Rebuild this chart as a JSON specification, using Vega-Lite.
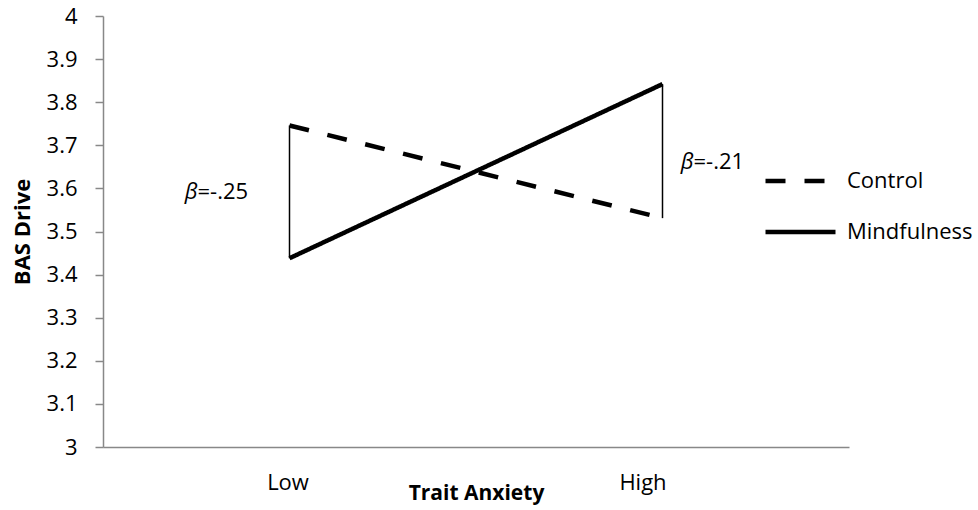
{
  "$schema": "https://vega.github.io/schema/vega-lite/v6.json",
  "width": 746,
  "height": 431,
  "autosize": {"type": "none"},
  "padding": {"left": 103, "top": 16, "right": 129, "bottom": 63},
  "background": "white",
  "config": {
    "view": {"stroke": null},
    "font": "Open Sans",
    "axis": {"grid": false, "domainColor": "#888888", "domainWidth": 1.5, "tickColor": "#888888", "tickWidth": 1.5, "labelColor": "black", "labelFont": "Open Sans", "labelFontSize": 22, "titleFont": "Open Sans", "titleFontSize": 21, "titleFontWeight": "bold", "titleColor": "black"}
  },
  "datasets": {
    "lines": [
      {"level": "Low", "group": "Control", "value": 3.746},
      {"level": "High", "group": "Control", "value": 3.531},
      {"level": "Low", "group": "Mindfulness", "value": 3.438},
      {"level": "High", "group": "Mindfulness", "value": 3.842}
    ],
    "gaps": [
      {"level": "Low", "lo": 3.438, "hi": 3.746},
      {"level": "High", "lo": 3.531, "hi": 3.842}
    ]
  },
  "layer": [
    {
      "data": {"name": "gaps"},
      "mark": {"type": "rule", "color": "black", "strokeWidth": 1.5},
      "encoding": {
        "x": {"field": "level", "type": "nominal", "sort": ["Low", "High"], "scale": {"type": "point", "padding": 0.5},
          "axis": {"title": "Trait Anxiety", "labelAngle": 0, "ticks": false, "labelPadding": 25, "titlePadding": -11,
            "labelOffset": {"condition": {"test": "datum.value === 'High'", "value": -20}, "value": -2}}},
        "y": {"field": "lo", "type": "quantitative", "scale": {"domain": [3, 4], "zero": false, "nice": false},
          "axis": {"title": "BAS Drive", "titleFontSize": 22, "values": [3, 3.1, 3.2, 3.3, 3.4, 3.5, 3.6, 3.7, 3.8, 3.9, 4], "format": ".1~f", "tickSize": 8, "labelPadding": 18, "titlePadding": 12}},
        "y2": {"field": "hi"}
      }
    },
    {
      "data": {"name": "lines"},
      "mark": {"type": "line", "color": "black", "strokeWidth": 4.5},
      "encoding": {
        "x": {"field": "level", "type": "nominal", "sort": ["Low", "High"]},
        "y": {"field": "value", "type": "quantitative"},
        "strokeDash": {"field": "group", "type": "nominal",
          "scale": {"domain": ["Control", "Mindfulness"], "range": [[20, 19], [1, 0]]},
          "legend": {"title": null, "orient": "none", "legendX": 660, "legendY": 155, "symbolType": "stroke", "symbolSize": 4900, "symbolStrokeWidth": 4.5, "symbolStrokeColor": "black", "clipHeight": 20, "rowPadding": 29, "labelOffset": 9, "labelFontSize": 22, "labelFont": "Open Sans", "labelColor": "black"}}
      }
    },
    {
      "data": {"values": [{"level": "Low", "value": 3.592, "t": "β"}]},
      "mark": {"type": "text", "align": "right", "dx": -92, "fontSize": 22, "fontStyle": "italic", "font": "Open Sans", "color": "black"},
      "encoding": {"x": {"field": "level", "type": "nominal", "sort": ["Low", "High"]}, "y": {"field": "value", "type": "quantitative"}, "text": {"field": "t"}}
    },
    {
      "data": {"values": [{"level": "Low", "value": 3.592, "t": "=-.25"}]},
      "mark": {"type": "text", "align": "left", "dx": -92, "fontSize": 22, "font": "Open Sans", "color": "black"},
      "encoding": {"x": {"field": "level", "type": "nominal", "sort": ["Low", "High"]}, "y": {"field": "value", "type": "quantitative"}, "text": {"field": "t"}}
    },
    {
      "data": {"values": [{"level": "High", "value": 3.661, "t": "β"}]},
      "mark": {"type": "text", "align": "right", "dx": 31, "fontSize": 22, "fontStyle": "italic", "font": "Open Sans", "color": "black"},
      "encoding": {"x": {"field": "level", "type": "nominal", "sort": ["Low", "High"]}, "y": {"field": "value", "type": "quantitative"}, "text": {"field": "t"}}
    },
    {
      "data": {"values": [{"level": "High", "value": 3.661, "t": "=-.21"}]},
      "mark": {"type": "text", "align": "left", "dx": 31, "fontSize": 22, "font": "Open Sans", "color": "black"},
      "encoding": {"x": {"field": "level", "type": "nominal", "sort": ["Low", "High"]}, "y": {"field": "value", "type": "quantitative"}, "text": {"field": "t"}}
    }
  ]
}
